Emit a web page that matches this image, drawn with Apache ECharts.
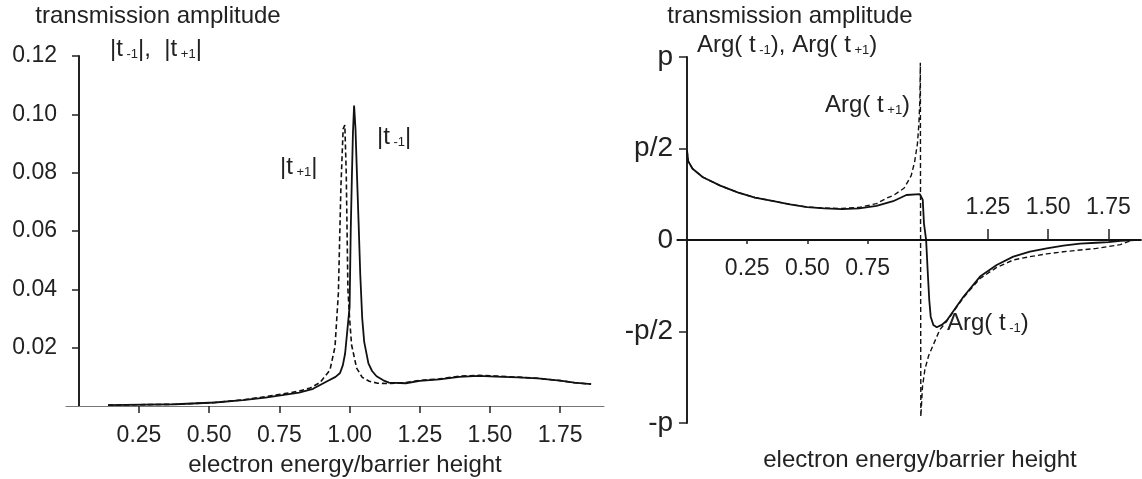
<!DOCTYPE html>
<html><head><meta charset="utf-8">
<script src="https://cdn.jsdelivr.net/npm/echarts@6/dist/echarts.min.js"></script>
<style>html,body{margin:0;padding:0;background:#fff}#c{width:1142px;height:479px}</style>
</head><body><div id="c"></div>
<script>
// ---------- data (left: |t|, right: Arg(t) in units of pi) ----------
const absX_m1 = [0.14,0.38,0.52,0.62,0.70,0.76,0.82,0.87,0.92,0.95,0.966,0.976,0.984,0.992,1.000,1.004,1.008,1.012,1.016,1.021,1.026,1.032,1.038,1.045,1.052,1.067,1.080,1.096,1.12,1.14,1.20,1.25,1.32,1.39,1.46,1.52,1.60,1.67,1.75,1.80,1.86];
const absY_m1 = [0.0003,0.0006,0.0012,0.0020,0.0029,0.0037,0.0046,0.0059,0.0085,0.0100,0.0113,0.0140,0.0180,0.0260,0.0340,0.0600,0.0780,0.0940,0.1030,0.0950,0.0800,0.0630,0.0450,0.0300,0.0220,0.0146,0.0120,0.0102,0.0088,0.0080,0.0078,0.0086,0.0091,0.0100,0.0103,0.0101,0.0098,0.0095,0.0087,0.0080,0.0075];
const absX_p1 = [0.14,0.38,0.52,0.62,0.70,0.76,0.82,0.86,0.894,0.93,0.948,0.960,0.969,0.977,0.983,0.988,0.991,0.994,1.000,1.007,1.025,1.045,1.07,1.10,1.13,1.20,1.25,1.32,1.39,1.46,1.52,1.60,1.67,1.75,1.80,1.86];
const absY_p1 = [0.0003,0.0006,0.0012,0.0021,0.0032,0.0041,0.0051,0.0062,0.0080,0.0123,0.0203,0.0387,0.0750,0.0950,0.0963,0.0800,0.0600,0.0400,0.0300,0.0210,0.0130,0.0098,0.0085,0.0078,0.0077,0.0080,0.0088,0.0093,0.0102,0.0105,0.0103,0.0099,0.0095,0.0087,0.0080,0.0075];

const argX_m1 = [0,0.005,0.023,0.066,0.138,0.21,0.282,0.354,0.427,0.499,0.571,0.643,0.715,0.787,0.856,0.911,0.967,0.979,0.984,0.993,1.000,1.006,1.012,1.023,1.037,1.058,1.078,1.148,1.217,1.286,1.355,1.424,1.494,1.563,1.632,1.70,1.75,1.80,1.86];
const argY_m1 = [0.49,0.43,0.389,0.343,0.297,0.26,0.232,0.214,0.195,0.18,0.173,0.169,0.173,0.186,0.212,0.246,0.251,0.219,0.091,0.0,-0.182,-0.328,-0.419,-0.464,-0.477,-0.464,-0.441,-0.31,-0.2,-0.137,-0.091,-0.064,-0.046,-0.031,-0.02,-0.015,-0.012,-0.004,0.0];
const argX_p1 = [0,0.005,0.023,0.066,0.138,0.21,0.282,0.354,0.427,0.499,0.571,0.643,0.715,0.787,0.828,0.859,0.902,0.931,0.945,0.957,0.963,0.967,0.969,0.971,0.978,0.988,1.003,1.024,1.05,1.078,1.148,1.217,1.286,1.355,1.424,1.494,1.563,1.632,1.70,1.75,1.80,1.83,1.85];
const argY_p1 = [0.49,0.43,0.389,0.343,0.297,0.26,0.232,0.214,0.195,0.18,0.175,0.172,0.178,0.199,0.228,0.245,0.284,0.352,0.425,0.527,0.637,0.766,0.969,-0.965,-0.80,-0.707,-0.634,-0.569,-0.49,-0.445,-0.315,-0.21,-0.15,-0.109,-0.091,-0.076,-0.064,-0.055,-0.046,-0.036,-0.025,-0.01,0.0];

const leftXTicks = [0.25,0.50,0.75,1.00,1.25,1.50,1.75];
const leftYTicks = [0.02,0.04,0.06,0.08,0.10,0.12];
const rightXTicksBelow = [0.25,0.50,0.75];
const rightXTicksAbove = [1.25,1.50,1.75];
const rightYTicks = [-1,-0.5,0,0.5,1];
const rightYTickLabels = ['-p','-p/2','0','p/2','p'];

// ---------- styling ----------
const FONT = '"Liberation Sans", Arial, sans-serif';
const TXT = '#222';
const INK = '#111';
const FS = 23;      // tick labels
const FT = 24;      // titles / annotations
const zip = (xs, ys) => xs.map((x, i) => [x, ys[i]]);
const subRich = { s: { fontSize: 13, fontFamily: FONT, fill: TXT, verticalAlign: 'bottom' } };

function txt(x, y, text, align) {
  return {
    type: 'text', x: x, y: y, silent: true,
    style: { text: text, fill: TXT, fontSize: FT, fontFamily: FONT,
             align: align || 'left', verticalAlign: 'middle', rich: subRich }
  };
}

const chart = echarts.init(document.getElementById('c'));
const labelBase = { fontSize: FS, color: TXT, fontFamily: FONT };

chart.setOption({
  animation: false,
  backgroundColor: '#fff',
  grid: [
    { left: 66, top: 56, width: 538, height: 350 },
    { left: 677.4, top: 57, width: 463.5, height: 366 }
  ],
  xAxis: [
    { gridIndex: 0, type: 'value', min: -0.01, max: 1.906,
      axisLine: { onZero: false, lineStyle: { color: '#777', width: 1 } },
      axisTick: { customValues: leftXTicks, length: 7, lineStyle: { color: '#222', width: 1.5 } },
      axisLabel: Object.assign({ customValues: leftXTicks, margin: 18, formatter: v => v.toFixed(2) }, labelBase),
      splitLine: { show: false } },
    { gridIndex: 1, type: 'value', min: -0.04, max: 1.885, position: 'bottom', offset: -183,
      axisLine: { onZero: false, lineStyle: { color: '#111', width: 2 } },
      axisTick: { customValues: rightXTicksBelow, length: 4, lineStyle: { color: '#222', width: 1.5 } },
      axisLabel: Object.assign({ customValues: rightXTicksBelow, margin: 17, formatter: v => v.toFixed(2) }, labelBase),
      splitLine: { show: false } },
    { gridIndex: 1, type: 'value', min: -0.04, max: 1.885, position: 'top', offset: -183,
      axisLine: { show: false, onZero: false },
      axisTick: { customValues: rightXTicksAbove, length: 11, lineStyle: { color: '#222', width: 1.5 } },
      axisLabel: Object.assign({ customValues: rightXTicksAbove, margin: 21, formatter: v => v.toFixed(2) }, labelBase),
      splitLine: { show: false } }
  ],
  yAxis: [
    { gridIndex: 0, type: 'value', min: 0, max: 0.12, offset: -13,
      axisLine: { show: true, onZero: false, lineStyle: { color: '#222', width: 2 } },
      axisTick: { show: true, customValues: leftYTicks, length: 7, lineStyle: { color: '#222', width: 1.5 } },
      axisLabel: Object.assign({ customValues: leftYTicks, margin: 22, formatter: v => v.toFixed(2) }, labelBase),
      splitLine: { show: false } },
    { gridIndex: 1, type: 'value', min: -1, max: 1, offset: -9.63,
      axisLine: { show: true, onZero: false, lineStyle: { color: '#222', width: 2 } },
      axisTick: { show: true, customValues: rightYTicks, length: 8, lineStyle: { color: '#222', width: 1.5 } },
      axisLabel: Object.assign({ customValues: rightYTicks, margin: 14,
        formatter: v => rightYTickLabels[rightYTicks.indexOf(v)] }, labelBase, { fontSize: 28 }),
      splitLine: { show: false } }
  ],
  series: [
    { type: 'line', name: '|t-1|', xAxisIndex: 0, yAxisIndex: 0, data: zip(absX_m1, absY_m1),
      showSymbol: false, lineStyle: { color: INK, width: 1.8 } },
    { type: 'line', name: '|t+1|', xAxisIndex: 0, yAxisIndex: 0, data: zip(absX_p1, absY_p1),
      showSymbol: false, lineStyle: { color: INK, width: 1.6, type: [5, 3] } },
    { type: 'line', name: 'Arg(t-1)', xAxisIndex: 1, yAxisIndex: 1, data: zip(argX_m1, argY_m1),
      showSymbol: false, lineStyle: { color: INK, width: 1.8 } },
    { type: 'line', name: 'Arg(t+1)', xAxisIndex: 1, yAxisIndex: 1, data: zip(argX_p1, argY_p1),
      showSymbol: false, lineStyle: { color: INK, width: 1.4, type: [5, 3] } }
  ],
  graphic: [
    txt(158, 16, 'transmission amplitude', 'center'),
    txt(110, 49, '|t{s| -1}|,  |t{s| +1}|'),
    txt(280, 167, '|t{s| +1}|'),
    txt(377, 137, '|t{s| -1}|'),
    txt(345, 465, 'electron energy/barrier height', 'center'),
    txt(790, 16, 'transmission amplitude', 'center'),
    txt(697, 45, 'Arg( t{s| -1}), Arg( t{s| +1})'),
    txt(825, 105, 'Arg( t{s| +1})'),
    txt(947, 323, 'Arg( t{s| -1})'),
    txt(920, 460, 'electron energy/barrier height', 'center')
  ]
});
</script>
</body></html>
